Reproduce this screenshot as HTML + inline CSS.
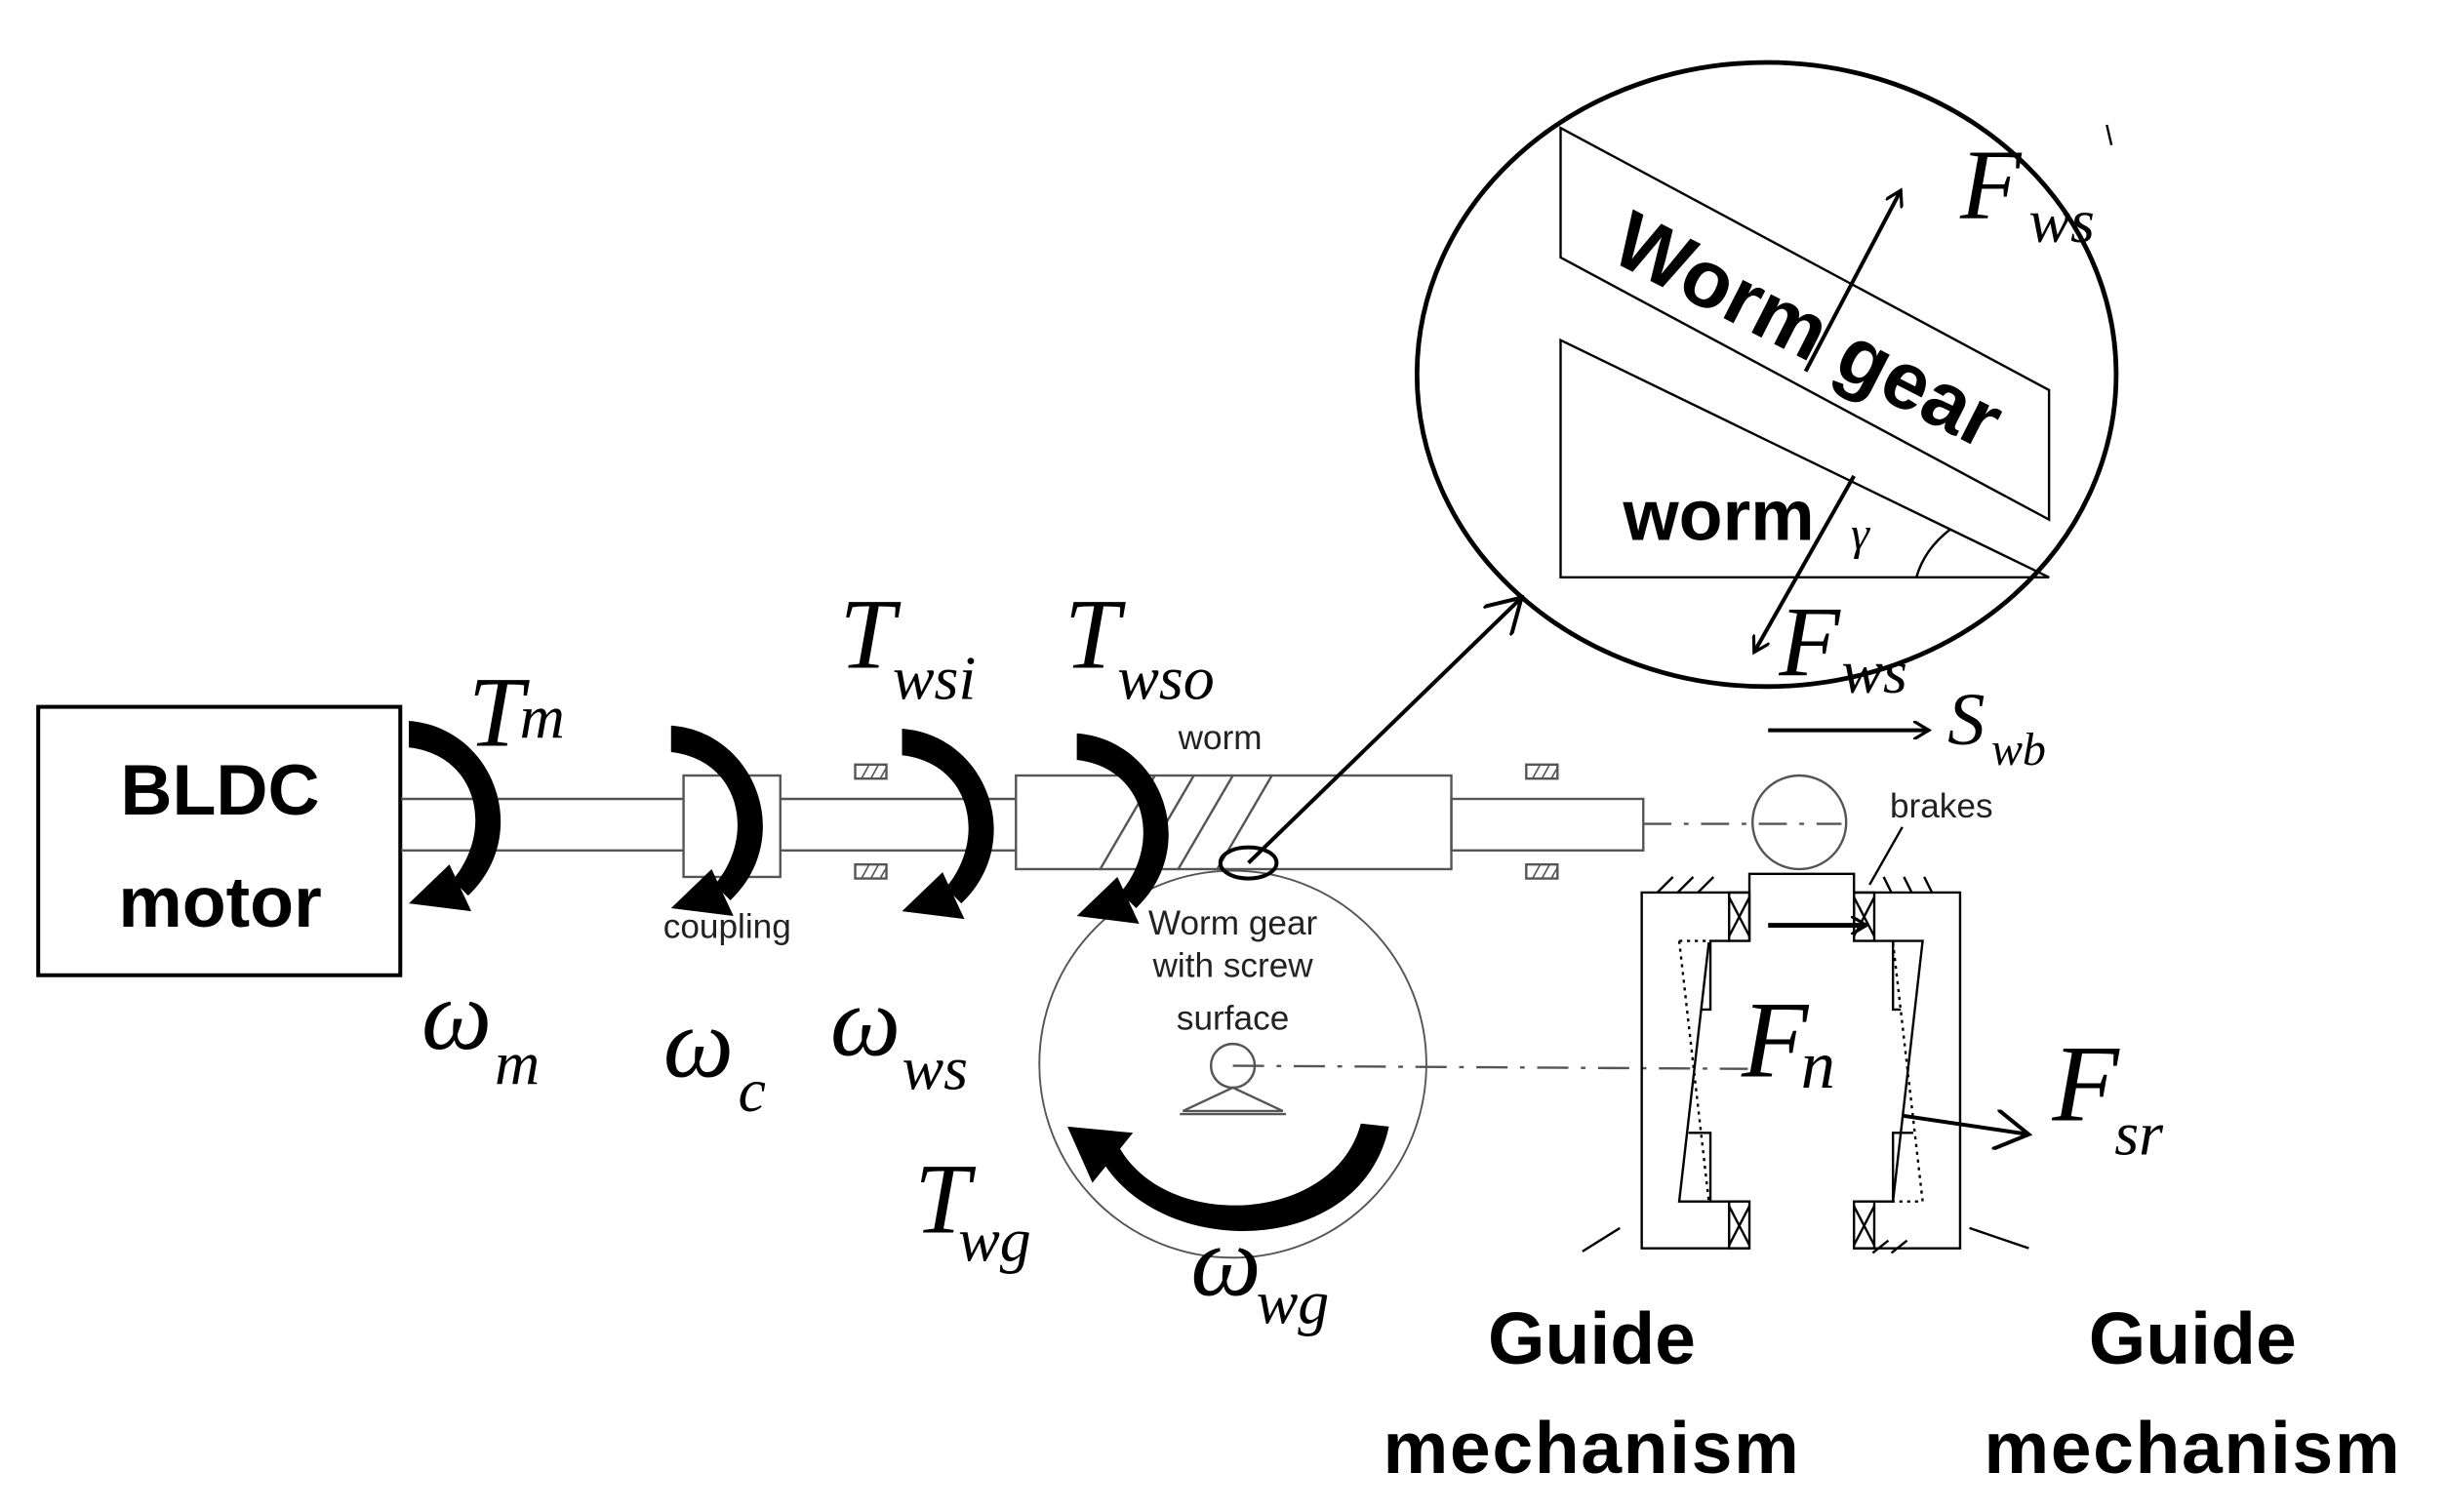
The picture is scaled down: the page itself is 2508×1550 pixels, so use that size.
<!DOCTYPE html>
<html><head><meta charset="utf-8"><style>
html,body{margin:0;padding:0;background:#fff;}
svg{display:block;}
.it{font-family:"Liberation Serif",serif;font-style:italic;fill:#000;}
.sm{font-family:"Liberation Sans",sans-serif;fill:#222;font-size:22px;}
.bd{font-family:"Liberation Sans",sans-serif;font-weight:bold;fill:#000;}
</style></head><body>
<svg width="2508" height="1550" viewBox="0 0 1568 969" preserveAspectRatio="none" xmlns="http://www.w3.org/2000/svg">
<defs>
<g id="crs">
<path d="M0,0 C54,4 80,72 38,112 L28,102 C55,70 44,22 0,17 Z" fill="#000"/>
<polygon points="0,117 26,92 40,122" fill="#000"/>
</g>
<marker id="oa" markerWidth="12" markerHeight="12" refX="10" refY="6" orient="auto" markerUnits="userSpaceOnUse"><path d="M0,0 L10,6 L0,12" fill="none" stroke="#000" stroke-width="2"/></marker>
<marker id="ob" markerWidth="26" markerHeight="26" refX="22" refY="13" orient="auto" markerUnits="userSpaceOnUse"><path d="M0,0 L22,13 L0,26" fill="none" stroke="#000" stroke-width="2.5"/></marker>
</defs>

<rect x="24.5" y="453" width="232" height="172" fill="none" stroke="#000" stroke-width="2.5"/>
<text class="bd" x="141" y="522" font-size="46" text-anchor="middle">BLDC</text>
<text class="bd" x="141" y="594" font-size="46" text-anchor="middle">motor</text>

<g stroke="#555" stroke-width="1.5" fill="none">
<line x1="257" y1="512" x2="438" y2="512"/><line x1="257" y1="545" x2="438" y2="545"/>
<rect x="438" y="497" width="62" height="65"/>
<line x1="500" y1="512" x2="651" y2="512"/><line x1="500" y1="545" x2="651" y2="545"/>
<rect x="651" y="497" width="279" height="60"/>
<rect x="930" y="512" width="123" height="33"/>
<line x1="705" y1="557" x2="740" y2="497"/><line x1="730" y1="557" x2="765" y2="497"/>
<line x1="755" y1="557" x2="790" y2="497"/><line x1="780" y1="557" x2="815" y2="497"/>
<rect x="548" y="490" width="20" height="9"/><rect x="548" y="554" width="20" height="9"/>
<rect x="978" y="490" width="20" height="9"/><rect x="978" y="554" width="20" height="9"/>
<path d="M552,499 l5,-9 M558,499 l5,-9 M564,499 l4,-7 M552,563 l5,-9 M558,563 l5,-9 M564,563 l4,-7 M982,499 l5,-9 M988,499 l5,-9 M994,499 l4,-7 M982,563 l5,-9 M988,563 l5,-9 M994,563 l4,-7" stroke-width="1"/>
<line x1="1053" y1="528" x2="1180" y2="528" stroke-dasharray="18,8,3,8"/>
<circle cx="1153" cy="527" r="30"/>
<circle cx="790" cy="682" r="124" stroke-width="1.2"/>
<line x1="790" y1="683" x2="1120" y2="685" stroke-dasharray="20,8,3,8"/>
<circle cx="790" cy="683" r="14"/>
<polygon points="790,697 758,712 822,712"/>
<line x1="756" y1="714" x2="824" y2="714"/>
</g>
<ellipse cx="800" cy="553" rx="18" ry="10" fill="none" stroke="#000" stroke-width="2.5"/>
<line x1="800" y1="553" x2="975" y2="383" stroke="#000" stroke-width="2.5" marker-end="url(#ob)"/>

<use href="#crs" x="262" y="462"/>
<use href="#crs" x="430" y="465"/>
<use href="#crs" x="578" y="467"/>
<use href="#crs" x="690" y="470"/>
<path d="M704,740 C740,808 872,808 890,722 L872,720 C855,785 745,790 716,733 Z" fill="#000"/>
<polygon points="684,722 726,726 700,758" fill="#000"/>

<text class="it" x="300" y="478" font-size="64">T</text><text class="it" x="333" y="473" font-size="40">m</text>
<text class="it" x="538" y="428" font-size="64">T</text><text class="it" x="572" y="448" font-size="40">wsi</text>
<text class="it" x="682" y="428" font-size="64">T</text><text class="it" x="716" y="448" font-size="40">wso</text>
<text class="it" x="270" y="672" font-size="64">ω</text><text class="it" x="317" y="695" font-size="40">m</text>
<text class="it" x="425" y="690" font-size="64">ω</text><text class="it" x="473" y="712" font-size="40">c</text>
<text class="it" x="532" y="676" font-size="64">ω</text><text class="it" x="578" y="698" font-size="40">ws</text>
<text class="it" x="586" y="790" font-size="64">T</text><text class="it" x="614" y="808" font-size="40">wg</text>
<text class="it" x="763" y="830" font-size="64">ω</text><text class="it" x="805" y="848" font-size="40">wg</text>
<text class="sm" x="755" y="480">worm</text>
<text class="sm" x="425" y="601">coupling</text>
<text class="sm" x="790" y="599" text-anchor="middle">Worm gear</text>
<text class="sm" x="790" y="626" text-anchor="middle">with screw</text>
<text class="sm" x="790" y="660" text-anchor="middle">surface</text>
<text class="sm" x="1211" y="524">brakes</text>

<ellipse cx="1132" cy="240" rx="224" ry="200" fill="none" stroke="#000" stroke-width="3"/>
<g stroke="#000" stroke-width="1.5" fill="none">
<polygon points="1000,82 1313,250 1313,333 1000,165"/>
<polygon points="1000,218 1313,370 1000,370"/>
<path d="M1228,370 Q1233,352 1250,339"/>
<line x1="1350" y1="80" x2="1353" y2="93"/>
</g>
<text class="bd" font-size="52" transform="translate(1030,166) rotate(27)">Worm gear</text>
<text class="bd" x="1040" y="346" font-size="46">worm</text>
<text class="it" x="1186" y="352" font-size="30">γ</text>
<line x1="1157" y1="238" x2="1218" y2="122" stroke="#000" stroke-width="2.5" marker-end="url(#oa)"/>
<line x1="1188" y1="305" x2="1124" y2="418" stroke="#000" stroke-width="2.5" marker-end="url(#oa)"/>
<text class="it" x="1256" y="140" font-size="64">F</text><text class="it" x="1300" y="155" font-size="40">ws</text>
<text class="it" x="1140" y="433" font-size="64">F</text><text class="it" x="1180" y="444" font-size="40">ws</text>
<line x1="1133" y1="468" x2="1236" y2="468" stroke="#000" stroke-width="2.5" marker-end="url(#oa)"/>
<text class="it" x="1248" y="477" font-size="48">S</text><text class="it" x="1276" y="490" font-size="30">wb</text>

<g stroke="#000" stroke-width="1.5" fill="none">
<path d="M1121,572 L1052,572 L1052,800 L1121,800"/>
<path d="M1188,572 L1256,572 L1256,800 L1188,800"/>
<path d="M1121,603 L1121,560 L1188,560 L1188,603"/>
<rect x="1108" y="572" width="13" height="31"/><rect x="1188" y="572" width="13" height="31"/>
<rect x="1108" y="770" width="13" height="30"/><rect x="1188" y="770" width="13" height="30"/>
<path d="M1108,603 L1096,603 L1096,647 L1090,647"/>
<path d="M1095,604 L1076,770 L1108,770"/>
<path d="M1082,726 L1096,726 L1096,770"/>
<path d="M1201,603 L1232,603 L1213,770 L1201,770"/>
<path d="M1213,603 L1213,647 L1218,647"/>
<path d="M1226,726 L1213,726 L1213,770"/>
<path d="M1076,603 L1096,603 M1076,603 L1095,770" stroke-dasharray="2,3"/>
<path d="M1213,604 L1232,770 L1213,770" stroke-dasharray="2,3"/>
<path d="M1108,575 l13,25 M1121,575 l-13,25 M1188,575 l13,25 M1201,575 l-13,25 M1108,773 l13,25 M1121,773 l-13,25 M1188,773 l13,25 M1201,773 l-13,25"/>
<path d="M1062,572 l10,-10 M1075,572 l10,-10 M1088,572 l10,-10 M1212,572 l-5,-10 M1225,572 l-5,-10 M1238,572 l-5,-10"/>
<path d="M1200,803 l10,-8 M1212,803 l10,-8"/>
<line x1="1219" y1="530" x2="1198" y2="567"/>
<line x1="1014" y1="802" x2="1038" y2="787"/>
<line x1="1262" y1="787" x2="1300" y2="800"/>
</g>
<line x1="1133" y1="593" x2="1196" y2="593" stroke="#000" stroke-width="3" marker-end="url(#oa)"/>
<line x1="1219" y1="715" x2="1300" y2="727" stroke="#000" stroke-width="2.5" marker-end="url(#ob)"/>
<text class="it" x="1116" y="690" font-size="70">F</text><text class="it" x="1154" y="697" font-size="44">n</text>
<text class="it" x="1315" y="718" font-size="70">F</text><text class="it" x="1355" y="740" font-size="40">sr</text>
<text class="bd" x="1020" y="874" font-size="47" text-anchor="middle">Guide</text>
<text class="bd" x="1020" y="944" font-size="47" text-anchor="middle" letter-spacing="1">mechanism</text>
<text class="bd" x="1405" y="874" font-size="47" text-anchor="middle">Guide</text>
<text class="bd" x="1405" y="944" font-size="47" text-anchor="middle" letter-spacing="1">mechanism</text>
</svg>
</body></html>
